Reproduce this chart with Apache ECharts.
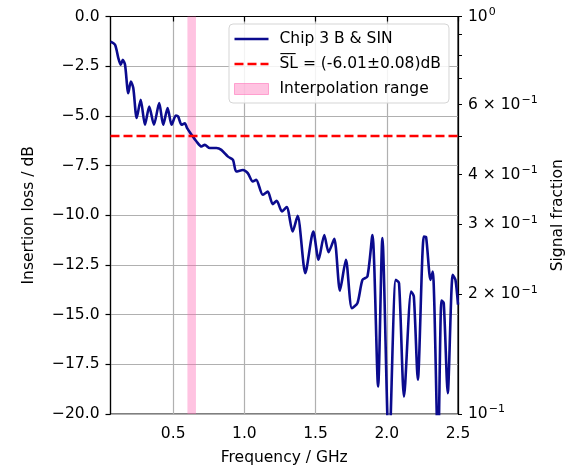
<!DOCTYPE html>
<html>
<head>
<meta charset="utf-8">
<script src="https://cdn.jsdelivr.net/npm/echarts@6/dist/echarts.min.js"></script>
<style>
html, body { margin: 0; padding: 0; background: #fff; }
#chart { width: 576px; height: 468px; }
</style>
</head>
<body>
<div id="chart"></div>
<script>
// measured curve (GHz, dB)
var freq = [0.06, 0.092, 0.115, 0.132, 0.146, 0.162, 0.185, 0.203, 0.220, 0.244,
	0.272, 0.302, 0.332, 0.365, 0.402, 0.430, 0.461, 0.489, 0.519, 0.535,
	0.559, 0.582, 0.598, 0.629, 0.664, 0.699, 0.722, 0.757, 0.804, 0.838,
	0.885, 0.920, 0.943, 0.990, 1.024, 1.059, 1.083, 1.129, 1.164, 1.199,
	1.227, 1.264, 1.297, 1.339, 1.374, 1.428, 1.484, 1.521, 1.561, 1.591,
	1.631, 1.671, 1.713, 1.755, 1.794, 1.829, 1.864, 1.899, 1.939, 1.969,
	2.016, 2.063, 2.086, 2.121, 2.171, 2.190, 2.218, 2.260, 2.276, 2.307,
	2.323, 2.360, 2.384, 2.400, 2.428, 2.463, 2.482, 2.5];
var lossDb = [-1.26, -1.42, -2.09, -2.43, -2.18, -2.43, -3.86, -3.27, -3.60, -5.11,
	-4.19, -5.45, -4.53, -5.45, -4.36, -5.45, -4.61, -5.45, -4.98, -5.03,
	-5.45, -5.37, -5.62, -5.95, -6.29, -6.54, -6.46, -6.62, -6.62, -6.71,
	-7.05, -7.21, -7.80, -7.72, -7.88, -8.30, -8.22, -8.97, -8.81, -9.44,
	-9.27, -9.81, -9.59, -10.82, -10.03, -12.91, -10.82, -12.24, -10.99, -11.86,
	-11.19, -13.79, -12.24, -14.68, -14.42, -13.25, -13.08, -10.99, -18.62, -11.15,
	-22.0, -13.25, -13.42, -19.12, -13.84, -14.09, -18.28, -11.07, -11.10, -13.25,
	-12.83, -22.0, -14.29, -14.42, -18.95, -13.00, -13.25, -14.5];

var slMean = -6.01;
var interpRange = [0.6, 0.66];

var xTicks = [0.5, 1.0, 1.5, 2.0, 2.5];
// right axis: signal fraction on log scale (amplitude, 20*log10)
var fracTicks = [0.1, 0.2, 0.3, 0.4, 0.5, 0.6, 0.7, 0.8, 0.9, 1.0];
var fracLabels = [0.1, 0.2, 0.3, 0.4, 0.6, 1.0];

var names = ['Chip 3 B & SIN', 'S\u0305L\u0305 = (-6.01\u00b10.08)dB', 'Interpolation range'];

function toDb(f) { return 20 * Math.log10(f); }

function fracText(v) {
	var f = Math.round(Math.pow(10, v / 20) * 10) / 10;
	if (f >= 0.99) return '10{s|0}';
	if (f <= 0.11) return '10{s|\u22121}';
	return Math.round(f * 10) + ' \u00d7 10{s|\u22121}';
}

var FONT = 'DejaVu Sans';
var FS = 15.5;

// legend glyphs: plain line / dashed line
var lineIcon = 'path://M0,0 H34 V2.6 H0 Z';
var dashIcon = 'path://M0,0 H9 V2.4 H0 Z M13,0 H22 V2.4 H13 Z M26,0 H34 V2.4 H26 Z';

var chipData = freq.map(function (f, i) { return [f, lossDb[i]]; });

var option = {
	animation: false,
	textStyle: { fontFamily: FONT },
	grid: {
		left: 110.5, right: 118, top: 16.5, bottom: 54,
		outerBoundsMode: 'none',
		show: true, borderColor: '#000', borderWidth: 1.2, backgroundColor: 'transparent'
	},
	legend: {
		orient: 'vertical',
		left: 229, top: 24,
		padding: [7, 8, 6, 5],
		itemGap: 9,
		itemWidth: 34, itemHeight: 11,
		backgroundColor: 'rgba(255,255,255,0.85)',
		borderColor: '#d5d5d5', borderWidth: 1, borderRadius: 4,
		textStyle: { fontFamily: FONT, fontSize: FS, color: '#000', padding: [0, 0, 0, 6] },
		data: [
			{ name: names[0], icon: lineIcon, itemStyle: { color: '#0b0b8e' } },
			{ name: names[1], icon: dashIcon, itemStyle: { color: '#ff0000' } },
			{ name: names[2], icon: 'rect', itemStyle: { color: 'rgba(255,105,180,0.4)', borderColor: 'rgba(255,105,180,0.55)', borderWidth: 1 } }
		]
	},
	xAxis: {
		type: 'value',
		min: freq[0], max: 2.5,
		name: 'Frequency / GHz',
		nameLocation: 'middle', nameGap: 36,
		nameTextStyle: { fontFamily: FONT, fontSize: FS, color: '#000' },
		axisLine: { lineStyle: { color: '#000', width: 1.2 } },
		axisTick: { customValues: xTicks, length: 5, lineStyle: { color: '#000', width: 1.2 } },
		axisLabel: { customValues: xTicks, margin: 12, fontFamily: FONT, fontSize: FS, color: '#000',
			formatter: function (v) { return v.toFixed(1); } },
		splitLine: { show: true, lineStyle: { color: '#b0b0b0', width: 1.2 } }
	},
	yAxis: [{
		type: 'value',
		min: -20, max: 0, interval: 2.5,
		name: 'Insertion loss / dB',
		nameLocation: 'middle', nameGap: 74, nameRotate: 90,
		nameTextStyle: { fontFamily: FONT, fontSize: FS, color: '#000' },
		axisLine: { show: true, lineStyle: { color: '#000', width: 1.2 } },
		axisTick: { show: true, length: 5, lineStyle: { color: '#000', width: 1.2 } },
		axisLabel: { margin: 11, fontFamily: FONT, fontSize: FS, color: '#000',
			formatter: function (v) { return (v < 0 ? '\u2212' : '') + Math.abs(v).toFixed(1); } },
		splitLine: { show: true, lineStyle: { color: '#b0b0b0', width: 1.2 } }
	}, {
		type: 'value',
		position: 'right',
		min: -20, max: 0,
		name: 'Signal fraction',
		nameLocation: 'middle', nameGap: 92, nameRotate: 90,
		nameTextStyle: { fontFamily: FONT, fontSize: FS, color: '#000' },
		axisLine: { show: true, lineStyle: { color: '#000', width: 1.2 } },
		axisTick: { show: true, customValues: fracTicks.map(toDb), length: 4, lineStyle: { color: '#000', width: 1 } },
		axisLabel: { customValues: fracLabels.map(toDb), margin: 10, fontFamily: FONT, fontSize: FS, color: '#000',
			formatter: fracText,
			rich: { s: { fontFamily: FONT, fontSize: 11, color: '#000', padding: [0, 0, 9, 1] } } },
		splitLine: { show: false }
	}],
	series: [{
		name: names[2],
		type: 'line',
		data: [],
		itemStyle: { color: 'rgba(255,105,180,0.4)' },
		markArea: {
			silent: true,
			itemStyle: { color: 'rgba(255,105,180,0.4)' },
			data: [[{ xAxis: interpRange[0] }, { xAxis: interpRange[1] }]]
		}
	}, {
		name: names[0],
		type: 'line',
		data: chipData,
		smooth: 0.25,
		showSymbol: false,
		symbol: 'none',
		z: 3,
		itemStyle: { color: '#0b0b8e' },
		lineStyle: { color: '#0b0b8e', width: 2.6 }
	}, {
		name: names[1],
		type: 'line',
		data: [],
		symbol: 'none',
		z: 4,
		itemStyle: { color: '#ff0000' },
		lineStyle: { color: '#ff0000', width: 2.4, type: [9, 4] },
		markLine: {
			silent: true,
			symbol: 'none',
			label: { show: false },
			lineStyle: { color: '#ff0000', width: 2.4, type: [9, 4] },
			data: [{ yAxis: slMean }]
		}
	}]
};

var chart = echarts.init(document.getElementById('chart'));
chart.setOption(option);
</script>
</body>
</html>
